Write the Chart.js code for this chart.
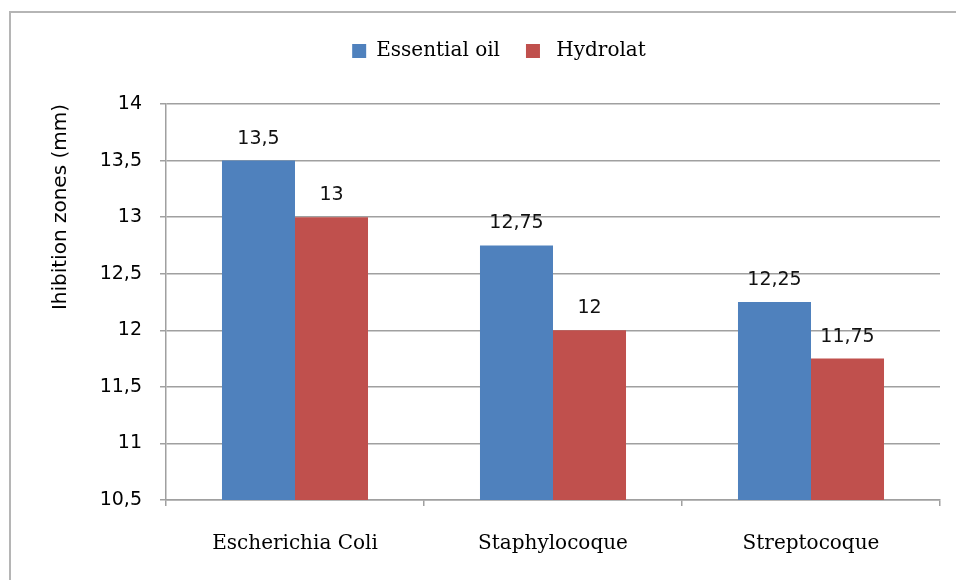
<!DOCTYPE html>
<html>
<head>
<meta charset="utf-8">
<script src="https://cdn.jsdelivr.net/npm/chart.js@4/dist/chart.umd.min.js"></script>
<style>
  body { margin: 0; background: #fff; overflow: hidden; }
  #wrap { position: relative; width: 956px; height: 580px; }
  #frame { position: absolute; left: 9px; top: 11px; width: 1000px; height: 700px; border: 2px solid #b5b5b5; box-sizing: border-box; }
  canvas { position: absolute; left: 0; top: 0; }
</style>
</head>
<body>
<div id="wrap">
  <div id="frame"></div>
  <canvas id="chart" width="956" height="580"></canvas>
</div>
<script>
const categories = ['Escherichia Coli', 'Staphylocoque', 'Streptocoque'];
const seriesNames = ['Essential oil', ' Hydrolat'];
const essentialOil = [13.5, 12.75, 12.25];
const hydrolat = [13, 12, 11.75];
const yMin = 10.5, yMax = 14, yStep = 0.5;

const comma = v => String(v).replace('.', ',');
const gridColor = '#a0a0a0';
const padLeft = 58;

const valueLabels = {
  id: 'valueLabels',
  afterDatasetsDraw(chart) {
    const ctx = chart.ctx;
    ctx.save();
    ctx.font = '19px "DejaVu Sans"';
    ctx.fillStyle = '#111';
    ctx.textAlign = 'center';
    ctx.textBaseline = 'alphabetic';
    chart.data.datasets.forEach((ds, i) => {
      chart.getDatasetMeta(i).data.forEach((bar, j) => {
        ctx.fillText(comma(ds.data[j]), bar.x, bar.y - 17);
      });
    });
    ctx.restore();
  }
};

new Chart(document.getElementById('chart'), {
  type: 'bar',
  data: {
    labels: categories,
    datasets: [
      { label: seriesNames[0], data: essentialOil, backgroundColor: '#4f81bd' },
      { label: seriesNames[1], data: hydrolat, backgroundColor: '#c0504d' }
    ]
  },
  options: {
    responsive: false,
    animation: false,
    categoryPercentage: 0.566,
    barPercentage: 1,
    layout: { padding: { top: 15, right: 16, left: padLeft, bottom: 0 } },
    plugins: {
      legend: {
        position: 'top',
        weight: 3000,
        labels: {
          boxWidth: 14, boxHeight: 14, padding: 26,
          color: '#000',
          font: { family: '"DejaVu Serif"', size: 20 }
        }
      },
      subtitle: {
        display: true,
        text: ' ',
        font: { size: 10 },
        padding: { top: 0, bottom: 21 }
      },
      tooltip: { enabled: false }
    },
    scales: {
      x: {
        afterFit: s => { s.height = 80; },
        grid: { drawOnChartArea: false, tickLength: 6, color: gridColor, lineWidth: 1.5 },
        border: { color: gridColor, width: 1.5 },
        ticks: { padding: 26, color: '#000', font: { family: '"DejaVu Serif"', size: 20 } }
      },
      y: {
        min: yMin, max: yMax,
        afterFit: s => { s.width = 166 - padLeft; },
        grid: { color: gridColor, lineWidth: 1.5, tickLength: 6 },
        border: { color: gridColor, width: 1.5 },
        ticks: {
          stepSize: yStep, padding: 18, color: '#000',
          font: { family: '"DejaVu Sans"', size: 19 },
          callback: v => comma(v)
        },
        title: {
          display: true, text: 'Ihibition zones (mm)', align: 'end',
          color: '#000', padding: { top: 61 - padLeft - 12, bottom: 0 },
          font: { family: '"DejaVu Sans"', size: 20 }
        }
      }
    }
  },
  plugins: [valueLabels]
});
</script>
</body>
</html>
